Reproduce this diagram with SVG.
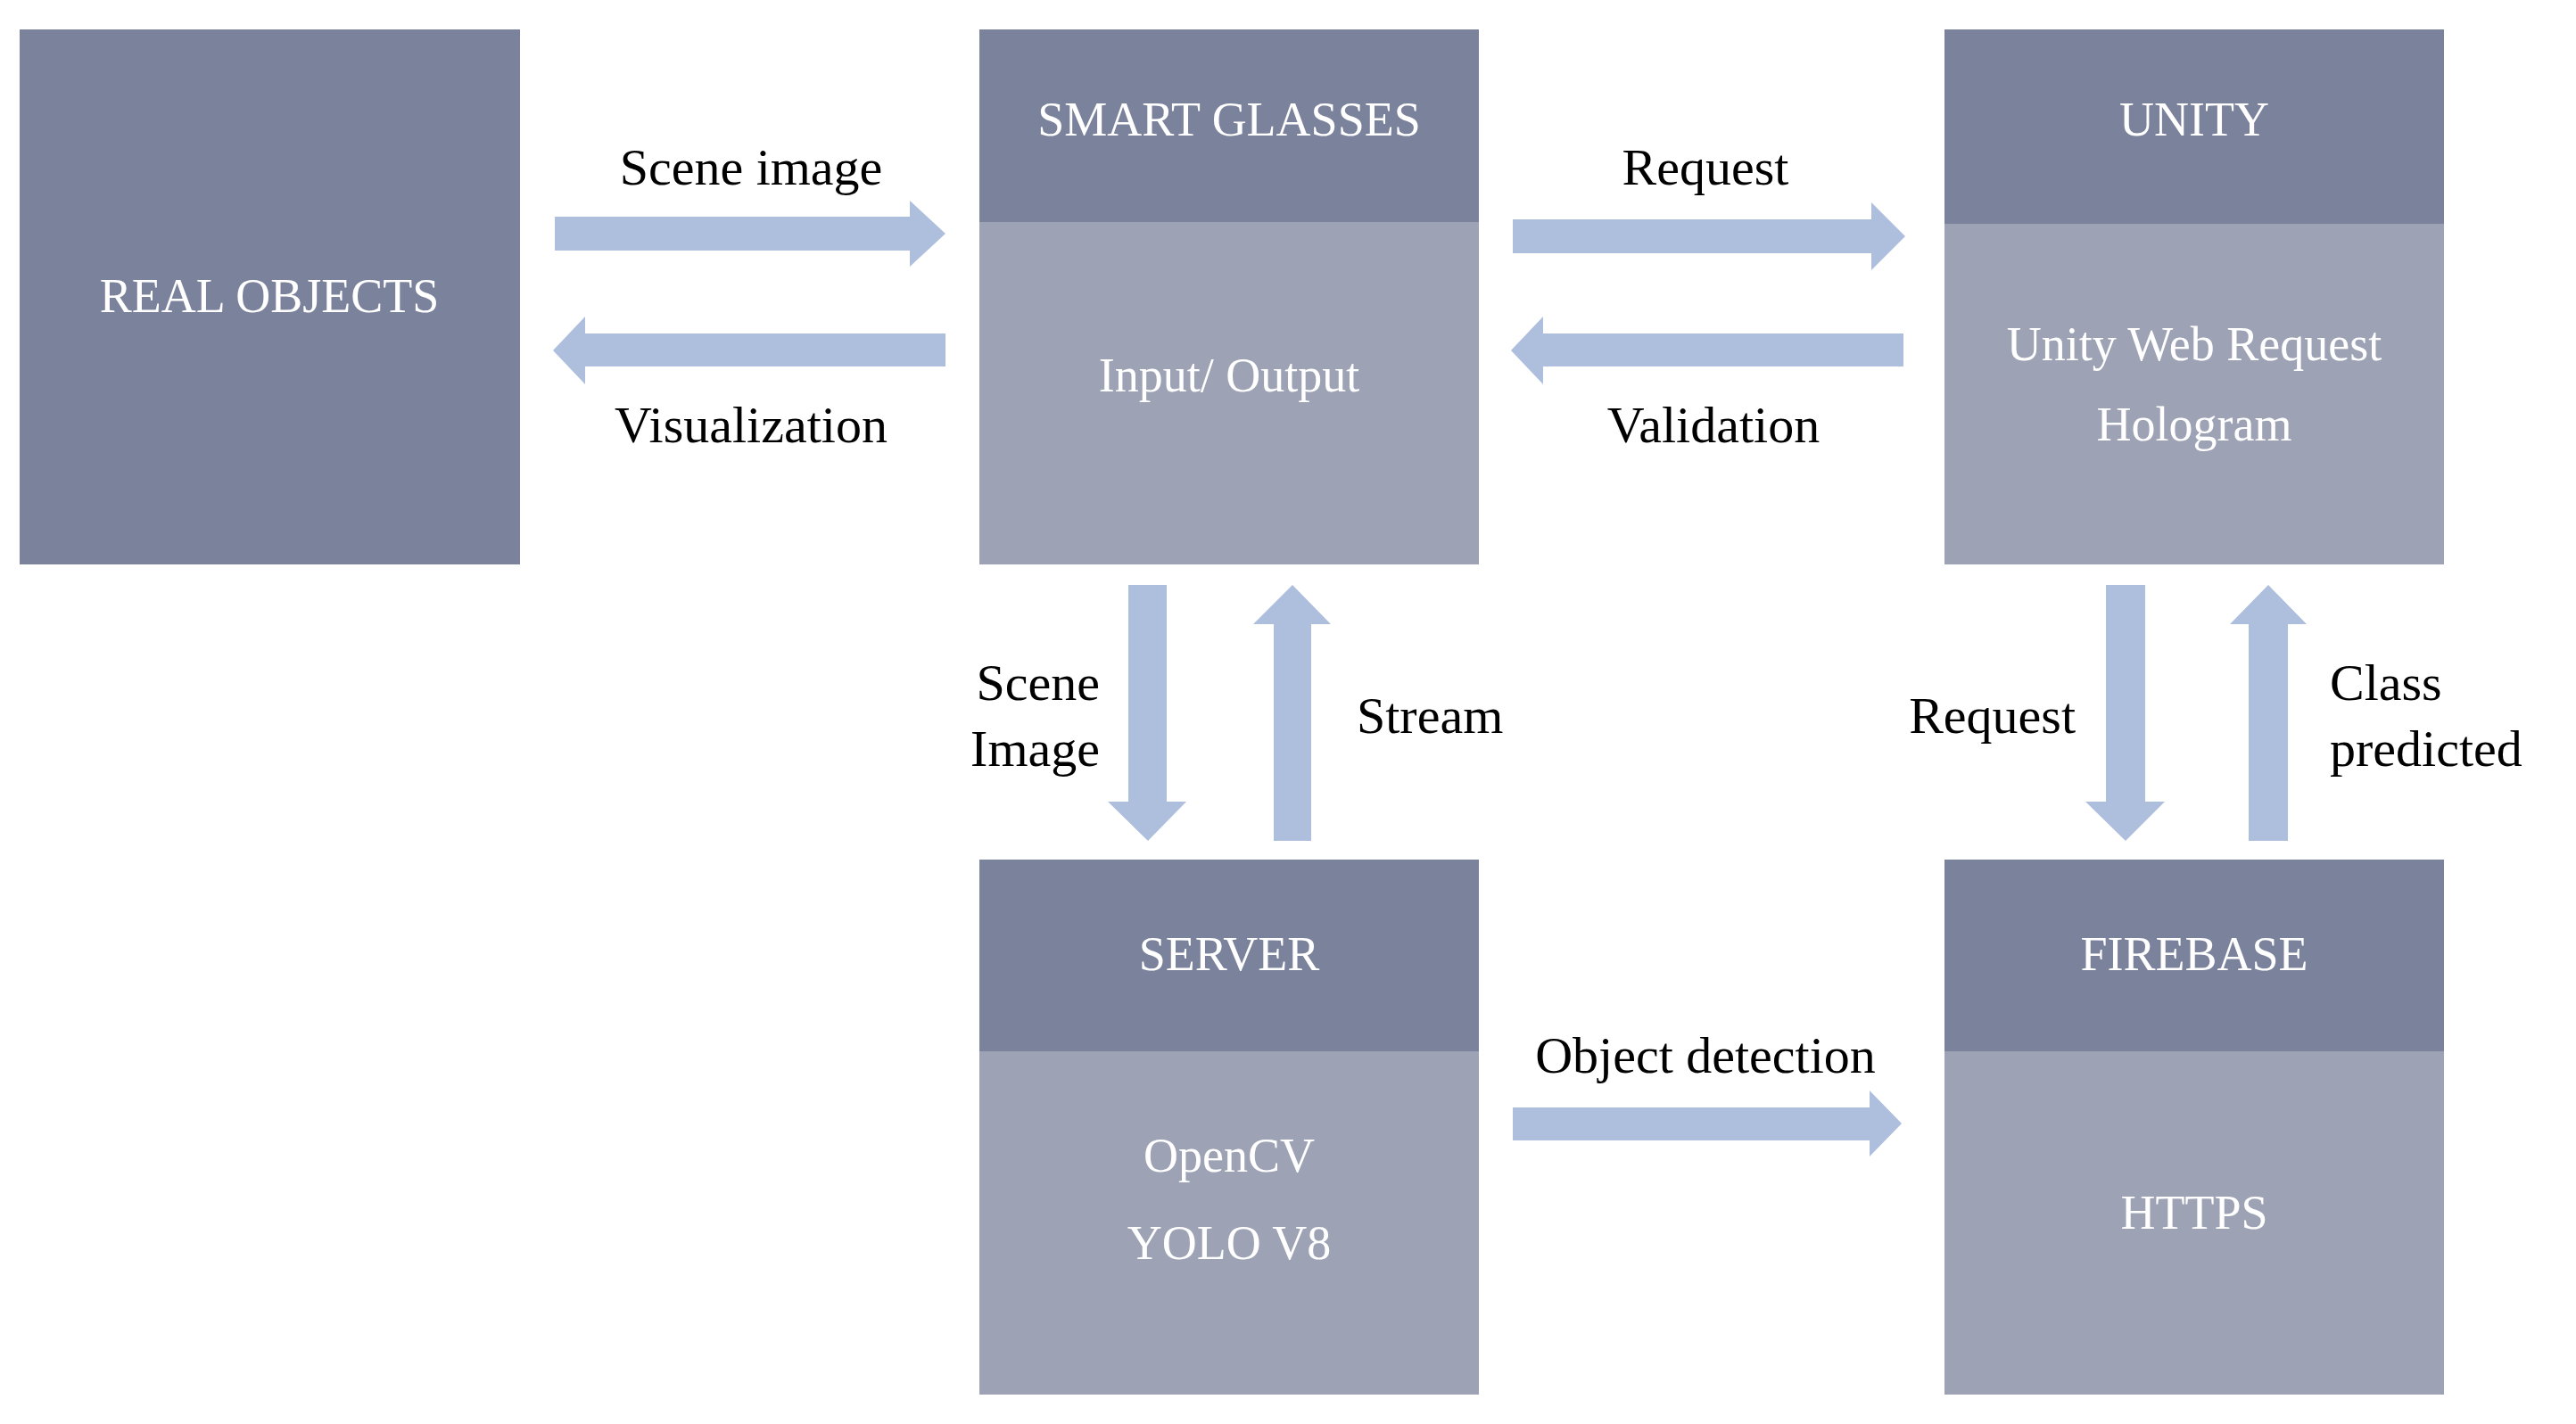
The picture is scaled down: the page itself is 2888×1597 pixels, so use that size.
<svg xmlns="http://www.w3.org/2000/svg" width="2888" height="1597" viewBox="0 0 2888 1597">
<style>
.h{fill:#7b829b}.b{fill:#9da2b5}.a{fill:#aebedd}
.w{font-family:"Liberation Serif",serif;font-size:54px;fill:#fff;text-anchor:middle}
.k{font-family:"Liberation Serif",serif;font-size:58px;fill:#000}
.m{text-anchor:middle}.e{text-anchor:end}
</style>
<rect width="2888" height="1597" fill="#fff"/>
<g id="real-objects"><rect class="h" x="22" y="33" width="561" height="600"/><text class="w" x="302" y="350">REAL OBJECTS</text></g>
<g id="smart-glasses"><rect class="b" x="1098" y="33" width="560" height="600"/><rect class="h" x="1098" y="33" width="560" height="216"/><text class="w" x="1378" y="152">SMART GLASSES</text><text class="w" x="1378" y="439">Input/ Output</text></g>
<g id="unity"><rect class="b" x="2180" y="33" width="560" height="600"/><rect class="h" x="2180" y="33" width="560" height="218"/><text class="w" x="2460" y="152">UNITY</text><text class="w" x="2460" y="404">Unity Web Request</text><text class="w" x="2460" y="494">Hologram</text></g>
<g id="server"><rect class="b" x="1098" y="964" width="560" height="600"/><rect class="h" x="1098" y="964" width="560" height="215"/><text class="w" x="1378" y="1088">SERVER</text><text class="w" x="1378" y="1314">OpenCV</text><text class="w" x="1378" y="1412">YOLO V8</text></g>
<g id="firebase"><rect class="b" x="2180" y="964" width="560" height="600"/><rect class="h" x="2180" y="964" width="560" height="215"/><text class="w" x="2460" y="1088">FIREBASE</text><text class="w" x="2460" y="1378">HTTPS</text></g>
<g id="connectors">
<polygon class="a" points="622,243 1020,243 1020,225 1060,262 1020,299 1020,281 622,281"/>
<polygon class="a" points="1060,374 656,374 656,355 620,393 656,431 656,411 1060,411"/>
<polygon class="a" points="1696,246 2098,246 2098,227 2136,265 2098,303 2098,284 1696,284"/>
<polygon class="a" points="2134,374 1730,374 1730,355 1694,393 1730,431 1730,411 2134,411"/>
<polygon class="a" points="1265,656 1308,656 1308,899 1330,899 1287,943 1242,899 1265,899"/>
<polygon class="a" points="1428,943 1470,943 1470,700 1492,700 1449,656 1405,700 1428,700"/>
<polygon class="a" points="2361,656 2405,656 2405,899 2427,899 2383,943 2338,899 2361,899"/>
<polygon class="a" points="2521,943 2565,943 2565,700 2586,700 2543,656 2500,700 2521,700"/>
<polygon class="a" points="1696,1242 2096,1242 2096,1223 2132,1260 2096,1297 2096,1279 1696,1279"/>
<text class="k m" x="842" y="207">Scene image</text>
<text class="k m" x="842" y="496">Visualization</text>
<text class="k m" x="1912" y="207">Request</text>
<text class="k m" x="1921" y="496">Validation</text>
<text class="k e" x="1233" y="785">Scene</text>
<text class="k e" x="1233" y="859">Image</text>
<text class="k" x="1521" y="822">Stream</text>
<text class="k e" x="2327" y="822">Request</text>
<text class="k" x="2612" y="785">Class</text>
<text class="k" x="2612" y="859">predicted</text>
<text class="k m" x="1912" y="1203">Object detection</text>
</g>
</svg>
